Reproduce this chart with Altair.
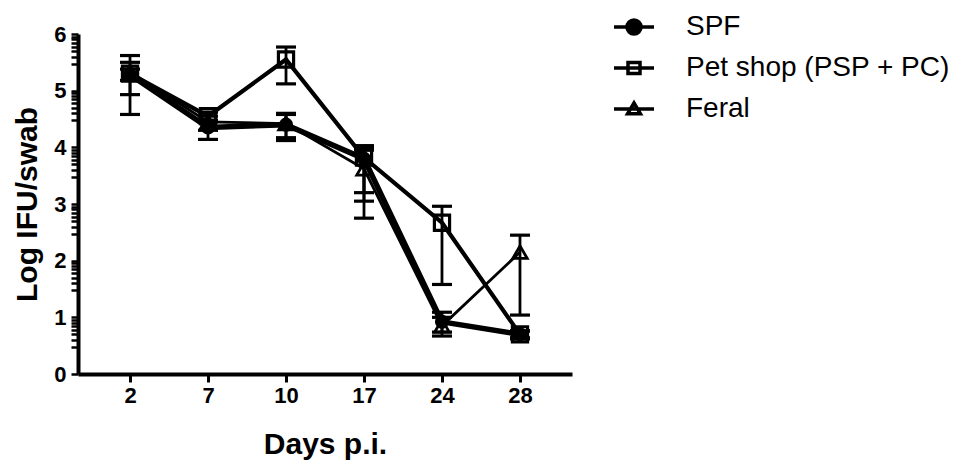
import altair as alt
import pandas as pd

days = ["2", "7", "10", "17", "24", "28"]
series_names = ["SPF", "Pet shop (PSP + PC)", "Feral"]

spf_mean = [5.28, 4.35, 4.40, 3.80, 0.92, 0.70]
spf_low = [5.18, 4.14, 4.17, 3.05, 0.74, 0.62]
spf_high = [5.38, 4.48, 4.60, 4.00, 1.09, 0.76]

pet_mean = [5.30, 4.55, 5.55, 3.82, 2.67, 0.70]
pet_low = [4.93, 4.45, 5.12, 3.20, 1.58, 0.64]
pet_high = [5.62, 4.62, 5.77, 4.03, 2.96, 0.76]

feral_mean = [5.33, 4.45, 4.42, 3.62, 0.85, 2.15]
feral_low = [4.58, 4.30, 4.12, 2.75, 0.67, 1.04]
feral_high = [5.50, 4.55, 4.58, 3.95, 1.00, 2.45]

y_major = [0, 1, 2, 3, 4, 5, 6]
y_minor_offsets = [0.477, 0.602, 0.699, 0.778, 0.845, 0.903, 0.954]

rows = []
for name, m, lo, hi in [
    ("Feral", feral_mean, feral_low, feral_high),
    ("SPF", spf_mean, spf_low, spf_high),
    ("Pet shop (PSP + PC)", pet_mean, pet_low, pet_high),
]:
    for i, (d, a, b, c) in enumerate(zip(days, m, lo, hi)):
        rows.append({"series": name, "day": d, "idx": i, "mean": a, "low": b, "high": c})
df = pd.DataFrame(rows)

legend_df = pd.DataFrame({"series": series_names, "day": [days[0]] * 3,
                          "mean": [spf_mean[0], pet_mean[0], feral_mean[0]]})

y_ticks = sorted(list(y_major) + [round(k + o, 3) for k in y_major[:-1] for o in y_minor_offsets])
is_major = "abs(datum.value - round(datum.value)) < 0.01"

xscale = alt.Scale(type="point", domain=days, padding=0.667)
yscale = alt.Scale(domain=[0, 6], nice=False, zero=True)

xaxis = alt.Axis(title="Days p.i.", labelAngle=0, tickSize=8, labelPadding=3,
                 titleY=70, titleBaseline="middle")
yaxis = alt.Axis(title="Log IFU/swab", values=y_ticks, tickCount=100, orient="left",
                 labelExpr=f"{is_major} ? format(datum.value, '.0f') : ''",
                 labelOverlap=False, tickSize=7, tickWidth=2.5, labelPadding=5,
                 titleX=-51, titleY=170, titleAngle=-90, titleBaseline="middle",
                 titleAlign="center")

X = alt.X("day:O", scale=xscale, axis=xaxis, sort=days)
Ymean = alt.Y("mean:Q", scale=yscale, axis=yaxis)

base = alt.Chart(df)

rules = base.mark_rule(color="black", strokeWidth=2.8).encode(
    x=X, y=alt.Y("low:Q", scale=yscale, axis=yaxis), y2="high:Q"
)
caps_low = base.mark_tick(color="black", size=20, thickness=3.2, opacity=1).encode(
    x=X, y=alt.Y("low:Q", scale=yscale, axis=yaxis)
)
caps_high = base.mark_tick(color="black", size=20, thickness=3.2, opacity=1).encode(
    x=X, y=alt.Y("high:Q", scale=yscale, axis=yaxis)
)


def series_line(name, width):
    return base.transform_filter(f"datum.series == '{name}'").mark_line(
        color="black", strokeWidth=width
    ).encode(x=X, y=Ymean, order=alt.Order("idx:Q"))


line_feral = series_line("Feral", 2.8)
line_spf = series_line("SPF", 5.5)
line_pet = series_line("Pet shop (PSP + PC)", 4.2)

feral_pts = base.transform_filter("datum.series == 'Feral'").mark_point(
    shape="triangle-up", size=210, filled=False, stroke="black", strokeWidth=2.8, opacity=1
).encode(x=X, y=Ymean)
spf_pts = base.transform_filter("datum.series == 'SPF'").mark_point(
    shape="circle", size=200, filled=True, color="black", opacity=1
).encode(x=X, y=Ymean)
pet_pts = base.transform_filter("datum.series == 'Pet shop (PSP + PC)'").mark_point(
    shape="square", size=230, filled=False, stroke="black", strokeWidth=3.2, opacity=1
).encode(x=X, y=Ymean)

legend_paths = [
    "M-1,0L1,0M0.35,0A0.35,0.35 0 1,1 -0.35,0A0.35,0.35 0 1,1 0.35,0Z",
    "M-1,0L1,0M-0.3,-0.27L0.3,-0.27L0.3,0.27L-0.3,0.27Z",
    "M-1,0L1,0M0,-0.3L0.32,0.24L-0.32,0.24Z",
]
leg = alt.Legend(title=None, orient="none", legendX=534, legendY=-29, padding=0,
                 labelFont="Liberation Sans", labelFontSize=28, labelColor="black",
                 labelOffset=30, labelLimit=500, rowPadding=5, symbolSize=1600,
                 symbolOpacity=1, symbolStrokeWidth=3.5, symbolStrokeColor="black")
legend_layer = alt.Chart(legend_df).mark_point(
    filled=False, strokeWidth=3.5, opacity=0
).encode(
    x=X, y=Ymean,
    shape=alt.Shape("series:N", scale=alt.Scale(domain=series_names, range=legend_paths),
                    legend=leg),
    fill=alt.Fill("series:N", scale=alt.Scale(domain=series_names,
                                              range=["black", "transparent", "transparent"]),
                  legend=leg),
    stroke=alt.Stroke("series:N", scale=alt.Scale(domain=series_names,
                                                  range=["black", "black", "black"]),
                      legend=leg),
)

chart = alt.layer(
    rules, caps_low, caps_high, line_feral, line_spf, line_pet,
    feral_pts, spf_pts, pet_pts, legend_layer
).properties(
    width=494, height=340,
    padding={"left": 70, "top": 26, "right": 395, "bottom": 94},
    autosize="none",
).configure_view(stroke=None).configure_axis(
    domainColor="black", domainWidth=4, tickColor="black", tickWidth=3,
    labelFont="Liberation Sans", labelFontSize=22, labelFontWeight="bold",
    labelColor="black", titleFont="Liberation Sans", titleFontSize=30,
    titleFontWeight="bold", titleColor="black", grid=False,
)

chart.save("out.html", embed_options={"renderer": "svg", "actions": False})
